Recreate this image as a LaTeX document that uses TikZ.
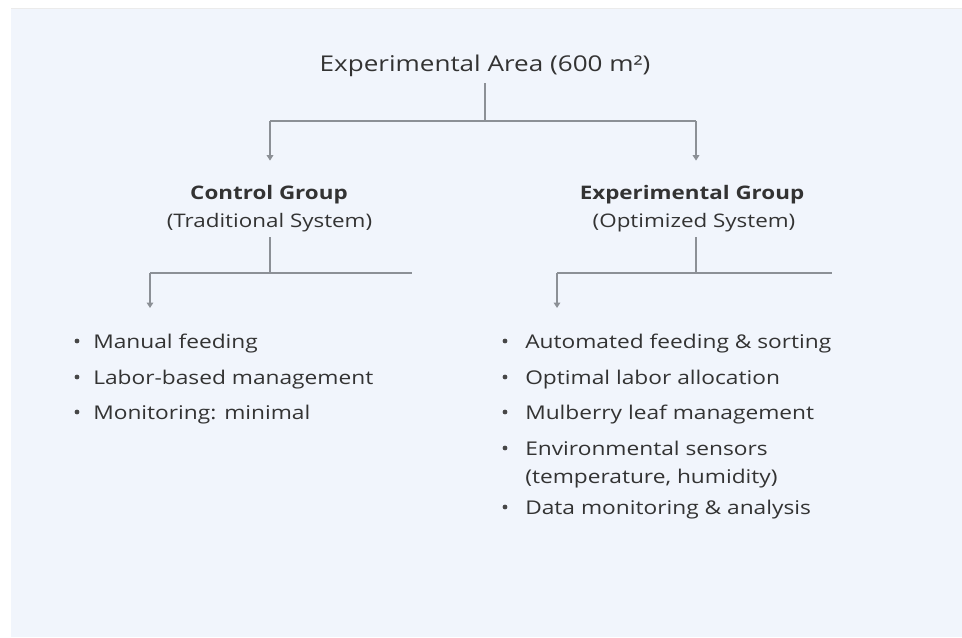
\documentclass[tikz,border=0pt]{standalone}
\usepackage{fontspec}
\setmainfont{Open Sans}[FakeStretch=1.2]
\usetikzlibrary{arrows.meta}
\definecolor{panel}{HTML}{F1F5FC}
\definecolor{ink}{HTML}{333333}
\definecolor{wirec}{HTML}{8C9096}
\begin{document}
\begin{tikzpicture}[x=0.75pt,y=-0.75pt,
  txt/.style={inner sep=0pt, text=ink},
  titletxt/.style={txt, font=\fontsize{16.3}{20}\selectfont, anchor=base},
  head/.style={txt, font=\fontsize{14}{17}\selectfont\bfseries, anchor=base},
  sub/.style={txt, font=\fontsize{14}{17}\selectfont, anchor=base},
  item/.style={txt, font=\fontsize{14.2}{17}\selectfont, anchor=base west},
  dot/.style={circle, fill=ink!90, inner sep=0pt, minimum size=3.6pt},
  wire/.style={draw=wirec, line width=0.8pt},
  arr/.style={wire, -{Triangle[length=4pt,width=5pt]}}]
\useasboundingbox (0,0) rectangle (962,637);
\fill[white] (0,0) rectangle (962,637);
\fill[panel] (11,8) rectangle (962,637);
\draw[draw=black!8, line width=1pt] (11,8.5) -- (962,8.5);

% title
\node[titletxt] (area) at (485,71) {Experimental Area (600 m²)};

% group headings
\node[head] (cg) at (269,199) {Control Group};
\node[sub] (cgs) at (269.5,227) {(Traditional System)};
\node[head] (eg) at (692,199) {Experimental Group};
\node[sub] (egs) at (694,227) {(Optimized System)};

% top split
\coordinate (aj) at (485,121);
\coordinate (al) at (270,121);
\coordinate (ar) at (696,121);
\draw[wire, shorten <=5pt] (area) -- (aj);
\draw[wire] (al) -- (ar);
\draw[arr, shorten >=18pt] (al) -- (al |- cg.north);
\draw[arr, shorten >=18pt] (ar) -- (ar |- eg.north);

% left list
\node[dot] (cb1) at (77,341) {};
\node[item] (c1) at (93,348) {Manual feeding};
\node[dot] (cb2) at (77,377) {};
\node[item] (c2) at (93,384) {Labor-based management};
\node[dot] (cb3) at (77,412) {};
\node[item] (c3) at (93,419) {Monitoring: minimal};

% right list
\node[dot] (eb1) at (505,341) {};
\node[item] (e1) at (525,348) {Automated feeding \& sorting};
\node[dot] (eb2) at (505,377) {};
\node[item] (e2) at (525,384) {Optimal labor allocation};
\node[dot] (eb3) at (505,412) {};
\node[item] (e3) at (525,419) {Mulberry leaf management};
\node[dot] (eb4) at (505,448) {};
\node[item] (e4) at (525,455) {Environmental sensors};
\node[item] (e4b) at (525,483) {(temperature, humidity)};
\node[dot] (eb5) at (505,507) {};
\node[item] (e5) at (525,514) {Data monitoring \& analysis};

% left split
\coordinate (cj) at (270,273);
\coordinate (cl) at (150,273);
\coordinate (cr) at (412,273);
\draw[wire, shorten <=4pt] (cj |- cgs.south) -- (cj);
\draw[wire] (cl) -- (cr);
\draw[arr, shorten >=19pt] (cl) -- (cl |- c1.north);

% right split
\coordinate (ej) at (696,273);
\coordinate (el) at (557,273);
\coordinate (er) at (832,273);
\draw[wire, shorten <=4pt] (ej |- egs.south) -- (ej);
\draw[wire] (el) -- (er);
\draw[arr, shorten >=19pt] (el) -- (el |- e1.north);
\end{tikzpicture}
\end{document}
